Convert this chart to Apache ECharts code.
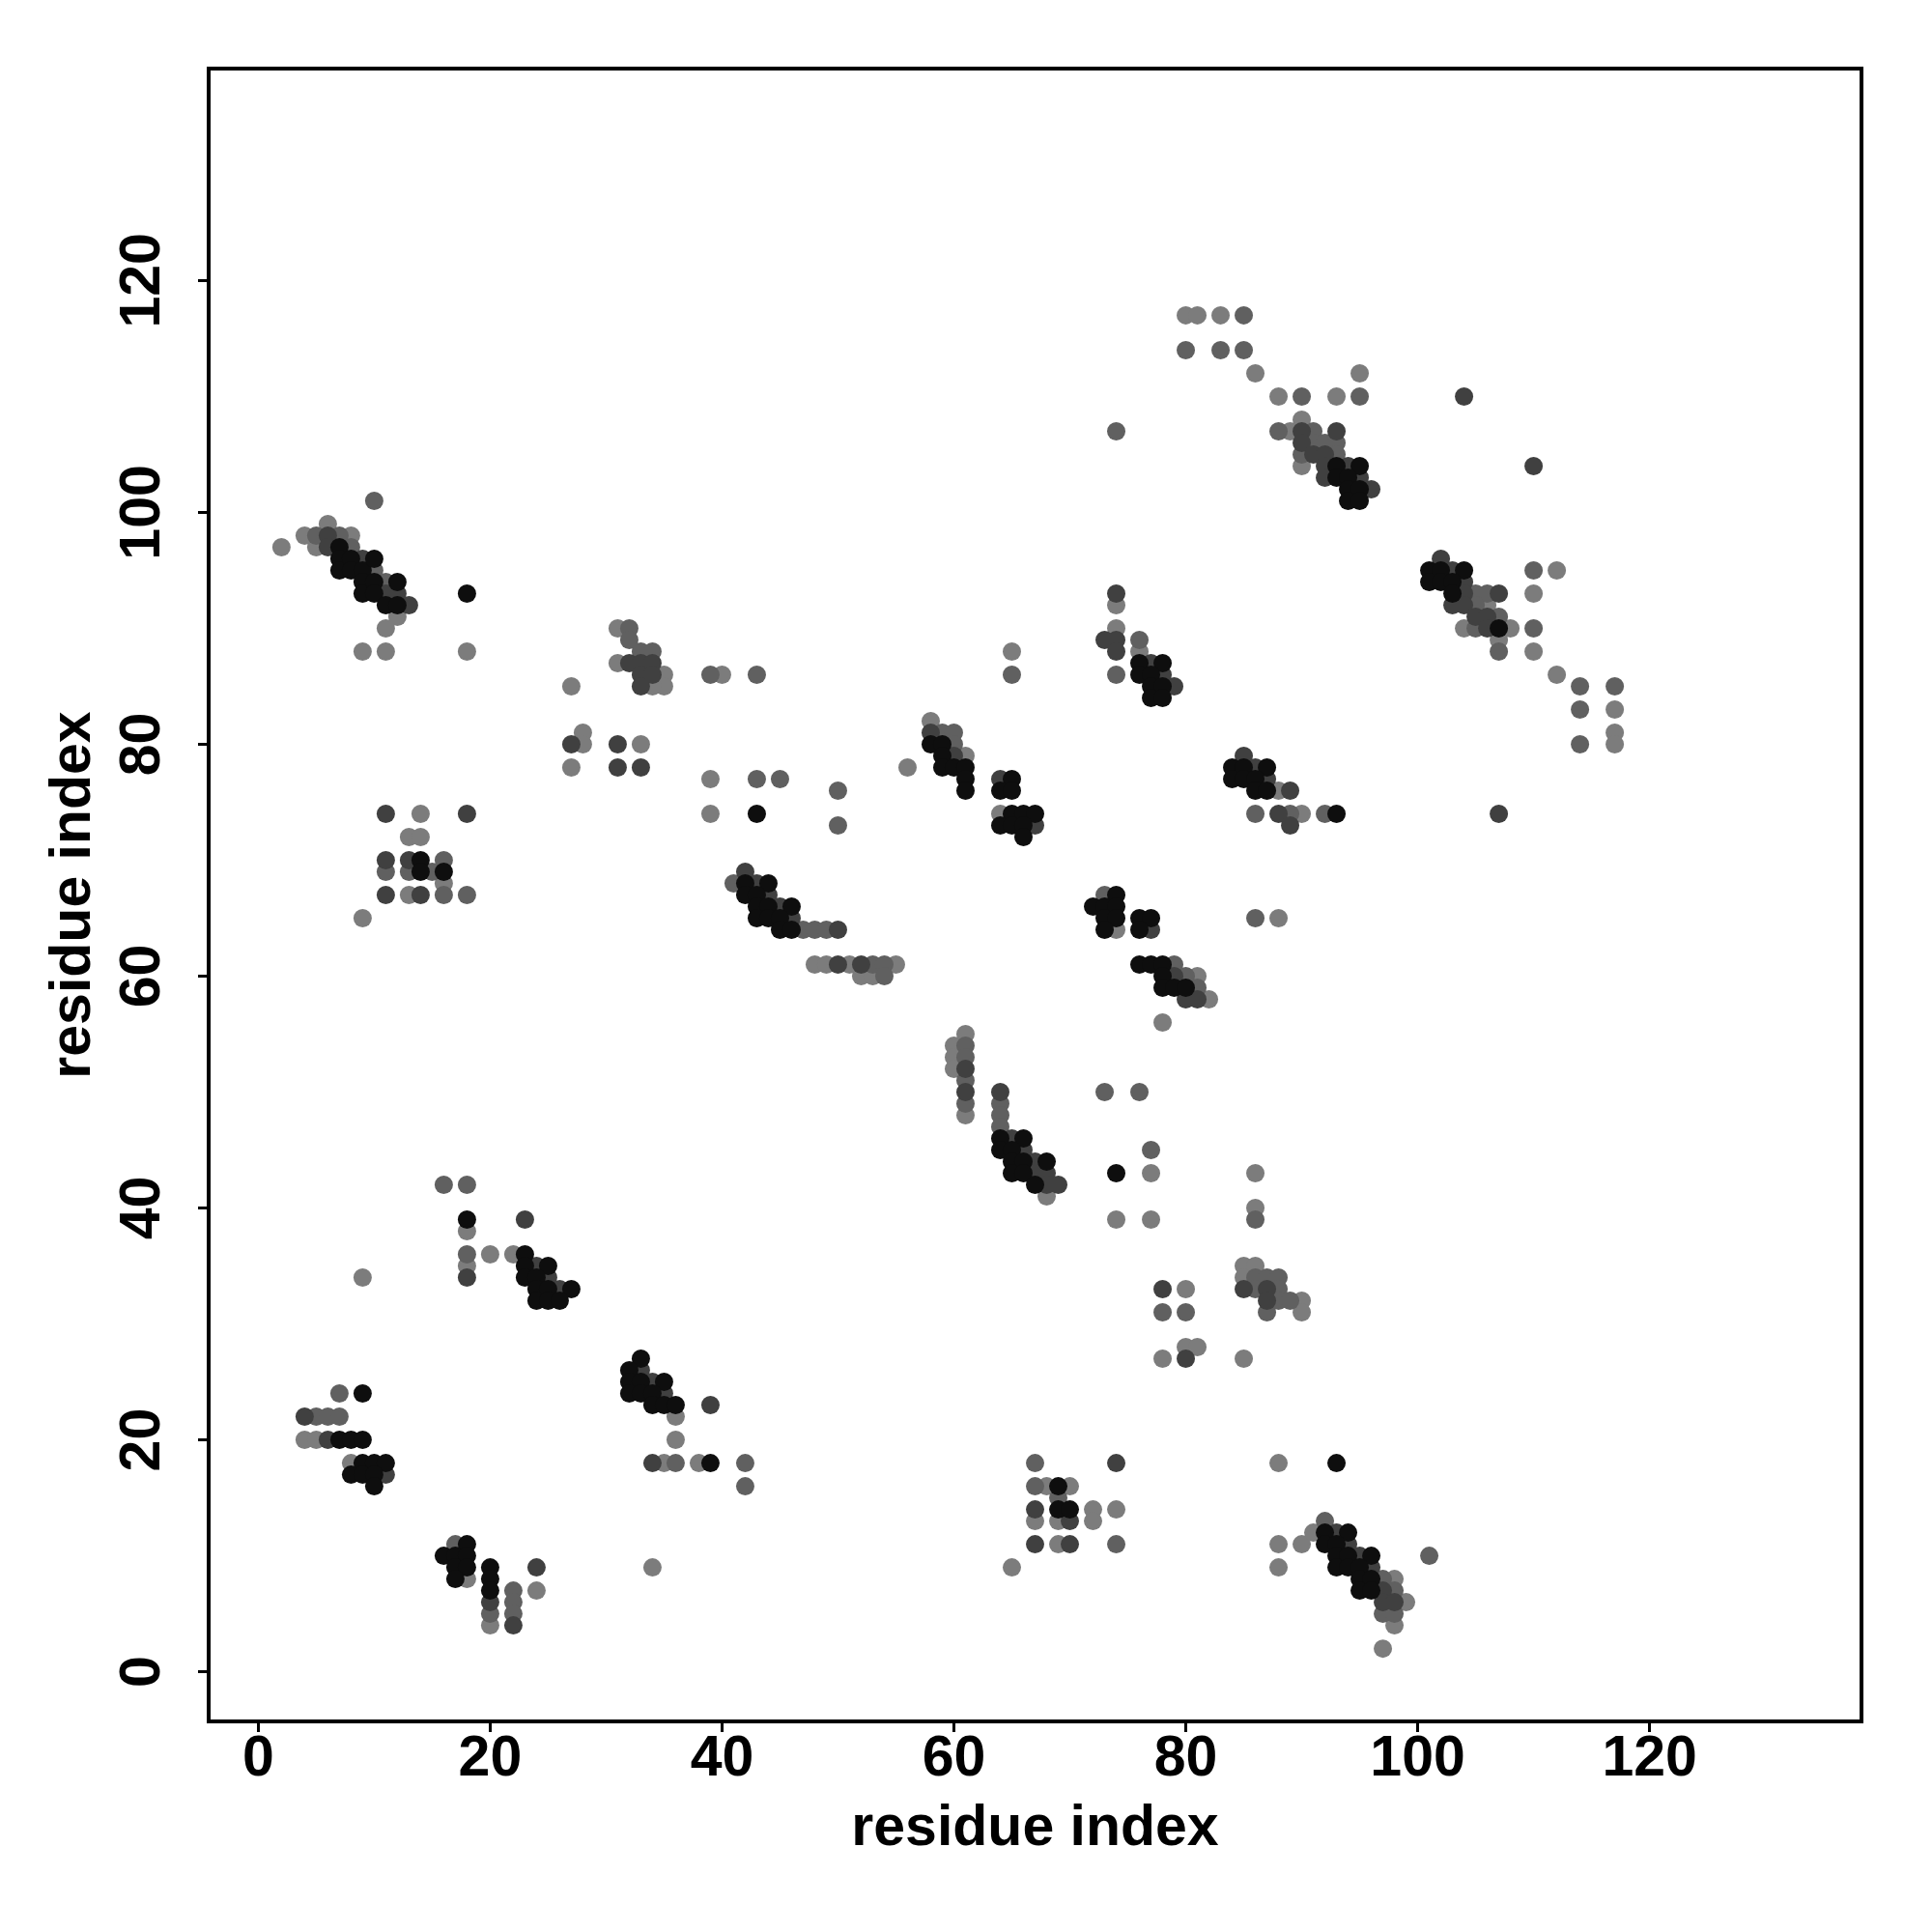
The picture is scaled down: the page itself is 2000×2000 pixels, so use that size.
<!DOCTYPE html>
<html>
<head>
<meta charset="utf-8">
<script src="https://cdn.jsdelivr.net/npm/echarts@6/dist/echarts.min.js"></script>
<style>
html,body{margin:0;padding:0;background:#fff;}
#c{width:2000px;height:2000px;}
</style>
</head>
<body>
<div id="c"></div>
<script>
// Contact map: [residue i, residue j]
const blackPts = [
[7,97],[7,96],[7,95],[8,96],[8,95],[9,95],[9,94],[9,93],[10,96],[10,94],[10,93],[11,92],[12,94],[12,92],[18,93],
[43,74],[42,68],[44,68],[42,67],[43,67],[43,66],[44,66],[46,66],[43,65],[44,65],[45,65],[45,64],[46,64],
[14,70],[14,69],[16,69],
[58,80],[59,80],[59,79],[59,78],[60,78],[61,78],[61,77],[61,76],
[65,77],[64,76],[65,76],[65,74],[66,74],[67,74],[64,73],[65,73],[66,73],[66,72],
[76,87],[78,87],[76,86],[77,86],[77,85],[78,85],[77,84],[78,84],
[93,104],[95,104],[93,103],[94,103],[94,102],[95,102],[94,101],[95,101],
[101,95],[102,95],[104,95],[101,94],[102,94],[103,94],[103,93],[107,90],
[74,67],[72,66],[73,66],[74,66],[73,65],[74,65],[73,64],[76,65],[77,65],[76,64],
[76,61],[77,61],[78,61],[78,60],[78,59],[79,59],[80,59],
[84,78],[85,78],[87,78],[84,77],[85,77],[86,77],[86,76],[87,76],[93,74],
[64,46],[64,45],[66,46],[65,45],[65,44],[66,44],[68,44],[65,43],[66,43],[67,42],[74,43],
[18,39],[23,36],[23,35],[25,35],[23,34],[24,34],[24,33],[25,33],[27,33],[24,32],[25,32],[26,32],
[9,24],[7,20],[8,20],[9,20],[9,18],[10,18],[11,18],[8,17],[9,17],[10,17],[10,16],
[33,27],[32,26],[32,25],[33,25],[35,25],[32,24],[33,24],[34,24],[34,23],[35,23],[36,23],[39,18],
[18,11],[16,10],[17,10],[18,10],[17,9],[18,9],[17,8],[20,9],[20,8],[20,7],
[69,16],[69,14],[70,14],
[93,18],[92,12],[94,12],[92,11],[93,11],[93,10],[94,10],[96,10],[93,9],[94,9],[95,9],[95,8],[96,8],[95,7],[96,7]
];
const darkPts = [
[6,98],[6,97],[9,96],[13,92],[12,93],[11,93],
[32,87],[33,87],[34,87],[33,86],[34,86],[33,85],
[27,80],[31,80],[31,78],[33,78],
[42,69],[43,68],[44,67],[45,66],[46,65],[50,64],[50,61],[52,61],
[11,74],[18,74],[11,70],[13,70],[11,67],[14,67],
[58,81],[60,79],[64,77],[67,73],
[74,93],[73,89],[74,89],[74,88],[77,87],[78,86],[79,85],
[104,110],[90,107],[93,107],[90,106],[91,105],[92,105],[92,104],[94,104],[92,103],[95,103],[96,102],
[102,96],[103,95],[104,94],[104,93],[107,93],[103,92],[104,92],[105,91],[106,91],[106,90],[110,104],
[77,64],[79,60],[80,58],[81,58],
[85,79],[86,78],[87,77],[89,76],[88,74],[89,73],[107,74],
[61,52],[61,50],[64,50],[65,46],[66,45],[67,44],[67,43],[68,43],[68,42],[69,42],
[78,33],[80,27],[85,33],[87,33],[87,32],
[23,39],[18,34],[24,35],[25,34],[26,33],
[4,22],[6,20],[11,17],
[33,26],[34,25],[35,24],[39,23],[34,18],
[20,6],[22,4],[24,9],
[74,18],[67,14],[70,13],[67,11],[70,11],
[93,12],[94,11],[95,10],[96,9],[97,7],[97,6],[98,6]
];
const midPts = [
[10,101],[5,98],[7,98],[8,97],[10,95],[11,94],
[32,90],[32,89],[33,88],[34,88],[39,86],[43,86],
[43,77],[45,77],[50,76],[50,73],
[41,68],[47,64],[48,64],[49,64],[53,61],[54,61],[54,60],
[16,70],[11,69],[13,69],[15,69],[16,67],[18,67],
[59,81],[60,81],[60,80],[65,86],
[74,86],[76,89],[74,107],
[85,117],[80,114],[83,114],[85,114],[90,110],[95,110],
[88,107],[91,107],[91,106],[92,106],[93,106],[90,105],[93,105],
[105,93],[106,93],[105,92],[107,91],[105,90],[107,88],
[110,95],[110,90],[114,85],[117,85],[114,83],[114,80],
[73,67],[79,61],[80,60],[81,59],[86,65],
[86,74],[89,74],[92,74],
[61,54],[61,53],[61,51],[61,49],[64,49],[64,48],[64,47],
[73,50],[76,50],[77,45],[86,39],
[78,31],[80,31],[86,34],[87,34],[88,34],[86,33],[88,33],[88,32],[89,32],[87,31],
[16,42],[18,42],[18,36],
[7,24],[5,22],[6,22],[7,22],
[36,18],[42,18],[42,16],
[17,11],[20,5],[22,7],[22,6],[22,5],
[67,18],[67,16],[69,15],[74,11],
[92,13],[97,8],[98,7],[97,5],[98,5],[101,10]
];
const lightPts = [
[2,97],[4,98],[6,99],[5,97],[8,98],[12,91],[11,90],[9,88],[11,88],[18,88],
[31,90],[31,87],[35,86],[35,85],[34,85],[40,86],
[27,85],[28,81],[28,80],[27,78],[33,80],
[39,77],[39,74],[56,78],
[48,61],[49,61],[51,61],[55,61],[52,60],[53,60],
[14,74],[13,72],[14,72],[16,68],[13,67],[9,65],
[58,82],[61,79],[64,74],[65,88],
[74,92],[74,90],[76,88],
[80,117],[81,117],[83,117],[86,112],[88,110],[93,110],[95,112],
[89,107],[90,108],[90,104],
[106,92],[104,90],[108,90],[107,89],
[112,95],[110,93],[110,88],[112,86],[117,83],[117,81],[117,80],
[74,64],[81,60],[82,58],[78,56],[88,65],
[88,76],[90,74],
[60,54],[60,53],[60,52],[61,55],[61,48],[68,41],
[77,43],[74,39],[77,39],[86,43],[86,40],
[80,33],[80,28],[81,28],[78,27],[85,27],
[85,35],[86,35],[85,34],[90,32],[90,31],
[18,38],[18,35],[20,36],[22,36],[9,34],
[4,20],[5,20],[8,18],
[36,22],[36,20],[35,18],[38,18],[34,9],
[18,8],[20,4],[24,7],
[68,16],[70,16],[72,14],[74,14],[67,13],[69,13],[72,13],[69,11],[65,9],
[88,18],[88,11],[88,9],[90,11],[91,12],[98,8],[99,6],[98,4],[97,2]
];
const tickValues = [0, 20, 40, 60, 80, 100, 120];
const axisMin = -4.28, axisMax = 138.28;
const axisTitle = 'residue index';

const FONT = '"Liberation Sans", Arial, Helvetica, sans-serif';
const chart = echarts.init(document.getElementById('c'));
function mkSeries(data, color) {
  return {type:'scatter', data:data, symbol:'circle', symbolSize:19,
    itemStyle:{color:color, opacity:1}, silent:true, animation:false};
}
const axisCommon = {
  type:'value', min:axisMin, max:axisMax,
  name:axisTitle, nameLocation:'middle',
  nameTextStyle:{fontFamily:FONT, fontWeight:'bold', fontSize:59, color:'#000'},
  axisLine:{show:false, onZero:false},
  splitLine:{show:false},
  axisTick:{show:true, inside:false, length:11, lineStyle:{color:'#000', width:3}, customValues:tickValues},
  axisLabel:{show:true, fontFamily:FONT, fontWeight:'bold', fontSize:59, color:'#000', customValues:tickValues}
};
chart.setOption({
  backgroundColor:'#fff',
  animation:false,
  grid:{left:216, top:71, width:1711, height:1711, show:true, borderColor:'#000', borderWidth:4, backgroundColor:'transparent'},
  xAxis: Object.assign({}, axisCommon, {nameGap:82,
    axisLabel:Object.assign({}, axisCommon.axisLabel, {margin:10})}),
  yAxis: Object.assign({}, axisCommon, {nameGap:110,
    axisLabel:Object.assign({}, axisCommon.axisLabel, {margin:38, rotate:90})}),
  series:[
    mkSeries(lightPts, '#7c7c7c'),
    mkSeries(midPts, '#606060'),
    mkSeries(darkPts, '#404040'),
    mkSeries(blackPts, '#0e0e0e')
  ]
});
</script>
</body>
</html>
